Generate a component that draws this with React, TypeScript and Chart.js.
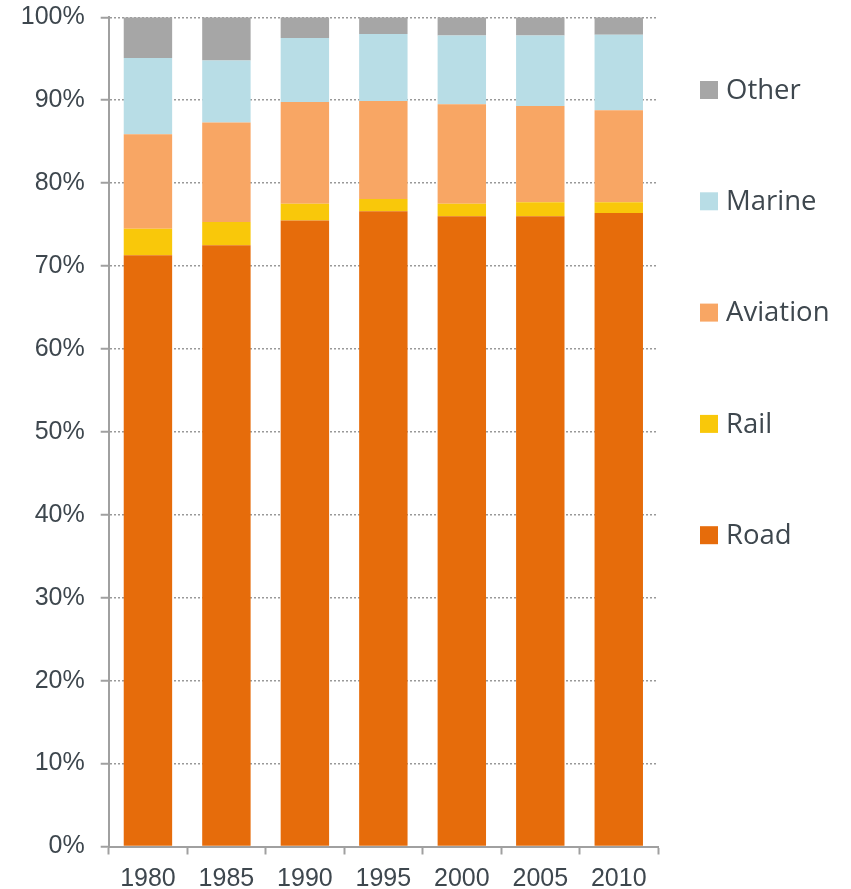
import React, { useEffect, useRef } from "react";
import { Chart, registerables } from "chart.js";

Chart.register(...registerables);

const years = ["1980", "1985", "1990", "1995", "2000", "2005", "2010"];
const road = [71.3, 72.5, 75.5, 76.6, 76.0, 76.0, 76.4];
const rail = [3.2, 2.8, 2.0, 1.5, 1.5, 1.7, 1.3];
const aviation = [11.4, 12.0, 12.3, 11.8, 12.0, 11.6, 11.1];
const marine = [9.2, 7.5, 7.7, 8.1, 8.3, 8.5, 9.1];
const other = [4.9, 5.2, 2.5, 2.0, 2.2, 2.2, 2.1];
const yTicks = [0, 10, 20, 30, 40, 50, 60, 70, 80, 90, 100];

const TEXT = "#3e474e";
const AXIS = "#a0a0a0";

const sideLegend = {
  id: "sideLegend",
  afterDraw(chart: any) {
    const ctx = chart.ctx;
    const ds = [...chart.data.datasets].reverse();
    ctx.save();
    ds.forEach((d: any, i: number) => {
      const cy = 90 + i * 111.3;
      ctx.fillStyle = d.backgroundColor;
      ctx.fillRect(700, cy - 9, 18, 18);
      ctx.fillStyle = TEXT;
      ctx.font = "27.5px 'Open Sans'";
      ctx.textBaseline = "middle";
      ctx.textAlign = "left";
      ctx.fillText(d.label, 726, cy + 1);
    });
    ctx.restore();
  },
};

export default function App() {
  const ref = useRef<HTMLCanvasElement>(null);
  useEffect(() => {
    if (!ref.current) return;
    const chart = new Chart(ref.current, {
      type: "bar",
      data: {
        labels: years,
        datasets: [
          { label: "Road", data: road, backgroundColor: "#E66C0B" },
          { label: "Rail", data: rail, backgroundColor: "#F9C80A" },
          { label: "Aviation", data: aviation, backgroundColor: "#F8A664" },
          { label: "Marine", data: marine, backgroundColor: "#B8DDE6" },
          { label: "Other", data: other, backgroundColor: "#A6A6A6" },
        ],
      },
      options: {
        responsive: false,
        animation: false,
        layout: { padding: { top: 17.3, right: 193, left: 0, bottom: 0 } },
        datasets: { bar: { categoryPercentage: 1, barPercentage: 0.617 } },
        plugins: { legend: { display: false }, tooltip: { enabled: false } },
        scales: {
          x: {
            stacked: true,
            afterFit: (s: any) => { s.height = 42.5; s.paddingLeft = 0; s.paddingRight = 0; },
            grid: {
              display: true,
              drawOnChartArea: false,
              drawTicks: true,
              tickLength: 8,
              tickColor: AXIS,
              tickWidth: 2,
              offset: true,
            },
            border: { display: true, color: AXIS, width: 2 },
            ticks: {
              color: TEXT,
              padding: 10,
              font: { family: "'Liberation Sans', Arial", size: 25 },
            },
          },
          y: {
            stacked: true,
            min: 0,
            max: 100,
            afterFit: (s: any) => { s.width = 108.7; s.paddingTop = 0; s.paddingBottom = 0; },
            afterBuildTicks: (s: any) => { s.ticks = yTicks.map((v) => ({ value: v })); },
            grid: {
              color: "#999999",
              lineWidth: 1.5,
              tickBorderDash: [],
              tickLength: 8,
              tickColor: AXIS,
              tickWidth: 2,
            },
            border: { display: true, color: AXIS, width: 2, dash: [2, 2] },
            ticks: {
              color: TEXT,
              padding: 16,
              font: { family: "'Liberation Sans', Arial", size: 25 },
              callback: (v: any) => v + "%",
            },
          },
        },
      },
      plugins: [sideLegend],
    });
    return () => chart.destroy();
  }, []);
  return (
    <div style={{ position: "fixed", left: 0, top: 0, width: 851, height: 889, background: "#fff" }}>
      <canvas ref={ref} width={851} height={889} style={{ display: "block" }} />
    </div>
  );
}
